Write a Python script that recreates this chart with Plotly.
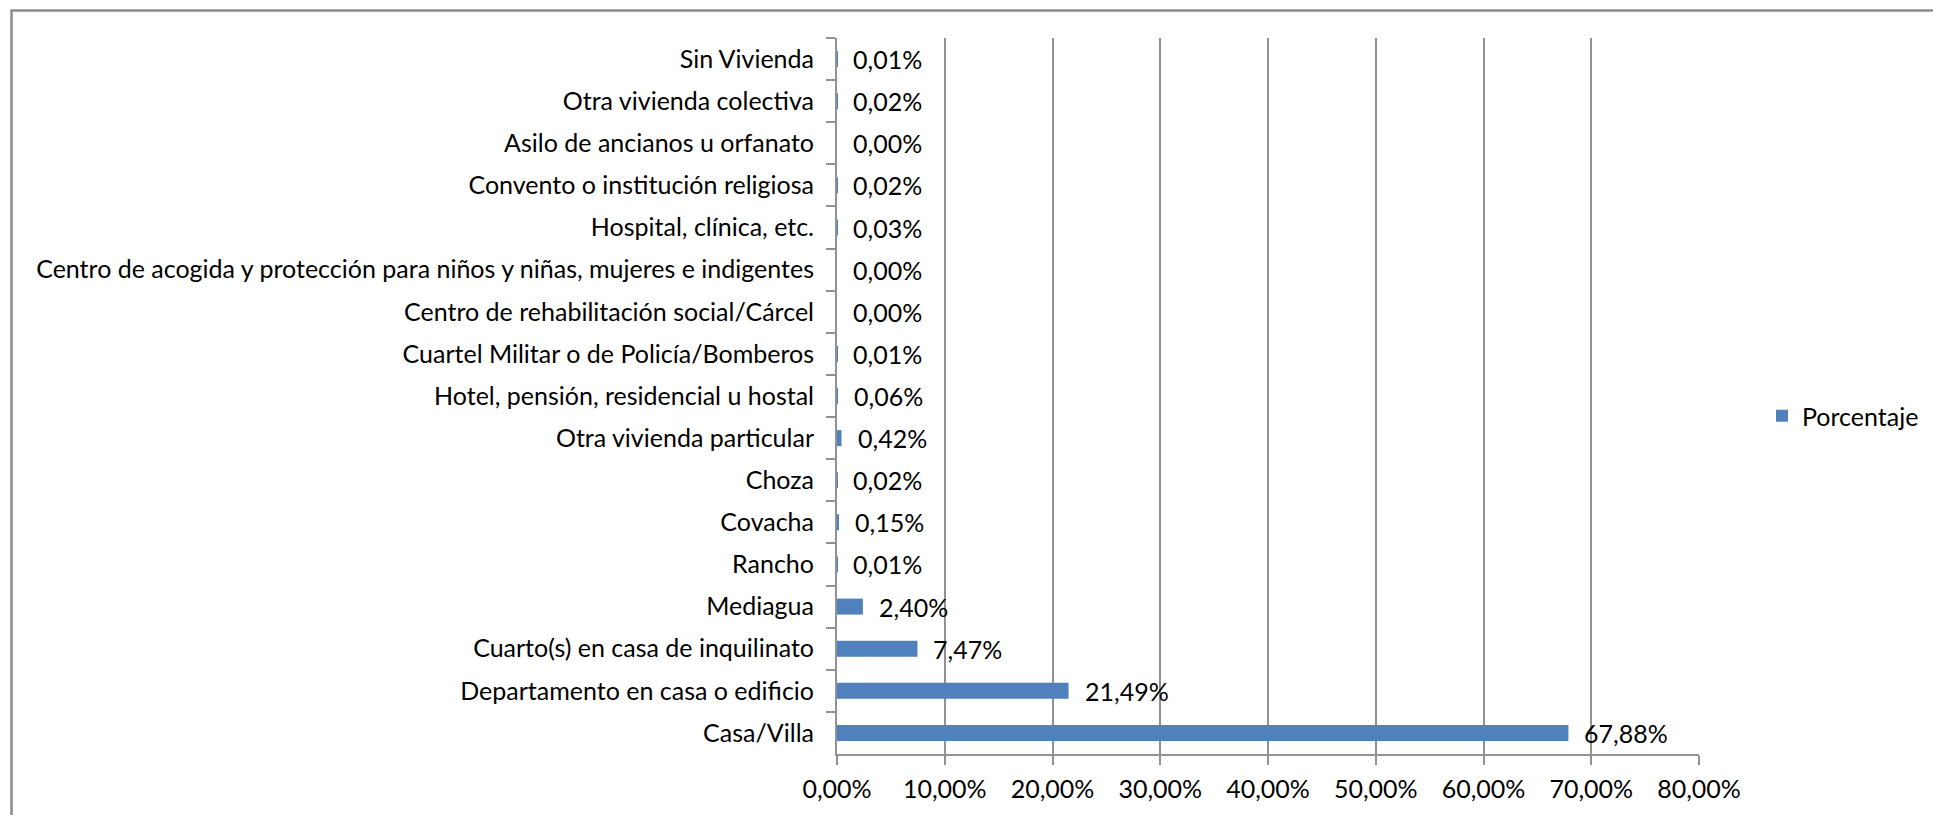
import plotly.graph_objects as go

# Tipo de vivienda, listed from top to bottom of the chart
categorias = [
    "Sin Vivienda",
    "Otra vivienda colectiva",
    "Asilo de ancianos u orfanato",
    "Convento o institución religiosa",
    "Hospital, clínica, etc.",
    "Centro de acogida y protección para niños y niñas, mujeres e indigentes",
    "Centro de rehabilitación social/Cárcel",
    "Cuartel Militar o de Policía/Bomberos",
    "Hotel, pensión, residencial u hostal",
    "Otra vivienda particular",
    "Choza",
    "Covacha",
    "Rancho",
    "Mediagua",
    "Cuarto(s) en casa de inquilinato",
    "Departamento en casa o edificio",
    "Casa/Villa",
]
porcentaje = [
    0.01, 0.02, 0.00, 0.02, 0.03, 0.00, 0.00, 0.01, 0.06,
    0.42, 0.02, 0.15, 0.01, 2.40, 7.47, 21.49, 67.88,
]
x_ticks = [0, 10, 20, 30, 40, 50, 60, 70, 80]
x_ticktext = [f"{v:.2f}".replace(".", ",") + "%" for v in x_ticks]

FONT = "Lato"
FS = 25
GRID = "#929292"
W, H = 1933, 815
ML, MR, MT, MB = 837, 234, 38, 61

fig = go.Figure()
fig.add_trace(go.Bar(
    x=porcentaje,
    y=categorias,
    orientation="h",
    name="Porcentaje",
    marker=dict(color="#4F81BD", line=dict(width=0)),
))

# value labels to the right of each bar
for cat, val in zip(categorias, porcentaje):
    fig.add_annotation(
        x=val, y=cat, xref="x", yref="y",
        text=f"{val:.2f}".replace(".", ",") + "%",
        showarrow=False, xanchor="left", yanchor="middle",
        xshift=14, font=dict(family=FONT, size=FS, color="#000"),
    )

# outer chart frame
pw = W - ML - MR
ph = H - MT - MB
fig.add_shape(
    type="rect", xref="paper", yref="paper",
    x0=(11.5 - ML) / pw, x1=(W + 20 - ML) / pw,
    y0=-(MB + 20) / ph, y1=1 + (MT - 10.5) / ph,
    line=dict(color="#8c8c8c", width=2.5), fillcolor="rgba(0,0,0,0)",
    layer="below",
)

fig.update_layout(
    width=W, height=H,
    margin=dict(l=ML, r=MR, t=MT, b=MB, autoexpand=False),
    paper_bgcolor="white", plot_bgcolor="white",
    bargap=0.62,
    font=dict(family=FONT, size=FS, color="#000"),
    showlegend=True,
    legend=dict(
        x=(1762 - ML) / pw, xanchor="left",
        y=1 - (416 - MT) / ph, yanchor="middle",
        font=dict(family=FONT, size=FS, color="#000"),
        itemwidth=30, bgcolor="rgba(0,0,0,0)",
    ),
    xaxis=dict(
        range=[0, 80], tickvals=x_ticks, ticktext=x_ticktext,
        showgrid=True, gridcolor=GRID, gridwidth=2,
        showline=True, linecolor=GRID, linewidth=2,
        ticks="outside", ticklen=9, tickcolor=GRID, tickwidth=2,
        zeroline=False, ticklabelstandoff=3,
    ),
    yaxis=dict(
        autorange="reversed", type="category",
        showline=True, linecolor=GRID, linewidth=2,
        ticks="outside", ticklen=9, tickcolor=GRID, tickwidth=2,
        tickson="boundaries", showgrid=False, ticklabelstandoff=16,
    ),
)

fig.write_html("out.html")
